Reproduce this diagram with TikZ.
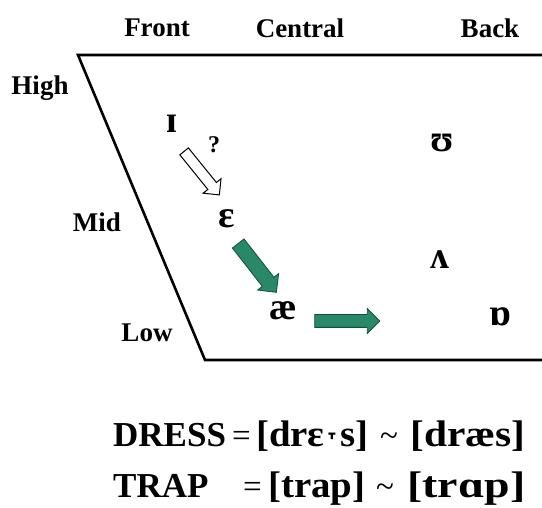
\documentclass[tikz,border=0pt]{standalone}
\usepackage{fontspec}
\setmainfont{Liberation Serif}
\newfontfamily\ipafont{DejaVu Sans}
\usetikzlibrary{shapes.arrows}
\definecolor{arrgreen}{RGB}{40,136,104}
\definecolor{arrdark}{RGB}{20,80,60}
\begin{document}
\begin{tikzpicture}[x=1pt,y=-1pt,
  lab/.style={font=\fontsize{27}{30}\selectfont\bfseries, inner sep=0pt},
  vow/.style={font=\fontsize{38}{40}\selectfont\bfseries, inner sep=0pt},
  eq/.style={font=\fontsize{35}{38}\selectfont\bfseries, inner sep=0pt, anchor=base west},
  br/.style={font=\fontsize{37}{40}\selectfont\bfseries, inner sep=0pt, anchor=base west},
  sym/.style={font=\fontsize{33}{35}\selectfont, inner sep=0pt, anchor=base west},
  frame/.style={line width=2.6pt, line join=miter},
  arr/.style={single arrow, single arrow head indent=0pt, inner xsep=0pt, minimum height=#1},
]
\useasboundingbox (0,0) rectangle (542,508);
\fill[white] (0,0) rectangle (542,508);
% frame
\coordinate (tl) at (78,55);
\coordinate (tr) at (542,55);
\coordinate (bl) at (205,360);
\coordinate (br) at (542,360);
\draw[frame] (tr) -- (tl) -- (bl) -- (br);
% column / row labels
\node[lab] (front) at (157,28) {Front};
\node[lab] (central) at (300,28) {Central};
\node[lab] (back) at (490,28) {Back};
\node[lab] (high) at (40,88) {High};
\node[lab] (mid) at (97,222) {Mid};
\node[lab] (low) at (147,333) {Low};
% vowels
\node[vow] (i) at (172,124) {ɪ};
\node[font=\fontsize{24}{26}\selectfont\bfseries, inner sep=0pt] (q) at (214,145) {?};
\node[vow] (e) at (227,219) {ɛ};
\node[vow] (ae) at (283,311) {æ};
\node[vow] (u) at (442,143) {ʊ};
\node[vow] (v) at (440,260) {ʌ};
\node[vow] (o) at (500,317) {ɒ};
% arrows
\node[arr=56pt, draw=black, fill=white, line width=1pt, inner ysep=5pt,
      single arrow head extend=6pt, rotate=-51] (a1) at (200,171) {};
\node[arr=62pt, draw=arrdark, fill=arrgreen, line width=0.8pt, inner ysep=7pt,
      single arrow head extend=6pt, rotate=-52] (a2) at (255,265) {};
\node[arr=65pt, draw=arrdark, fill=arrgreen, line width=0.8pt, inner ysep=6pt,
      single arrow head extend=6pt, rotate=0] (a3) at (344,321) {};
% transcriptions
\node[eq] (dress) at (113,447) {DRESS};
\node[sym] (deq) at (232,447) {=};
\node[br] (d1) at (256,447) {\scalebox{1.05}[1]{[drɛ{\ipafont\mdseries\fontsize{30}{32}\selectfont ˕}s]}};
\node[sym] (dti) at (380,447) {\textasciitilde};
\node[br] (d2) at (410,447) {\scalebox{1.12}[1]{[dræs]}};
\node[eq] (trap) at (113,497) {TRAP};
\node[sym] (teq) at (243,497) {=};
\node[br] (t1) at (268,497) {\scalebox{1.05}[1]{[trap]}};
\node[sym] (tti) at (376,497) {\textasciitilde};
\node[br] (t2) at (407,497) {\scalebox{1.24}[1]{[trɑp]}};
\end{tikzpicture}
\end{document}
